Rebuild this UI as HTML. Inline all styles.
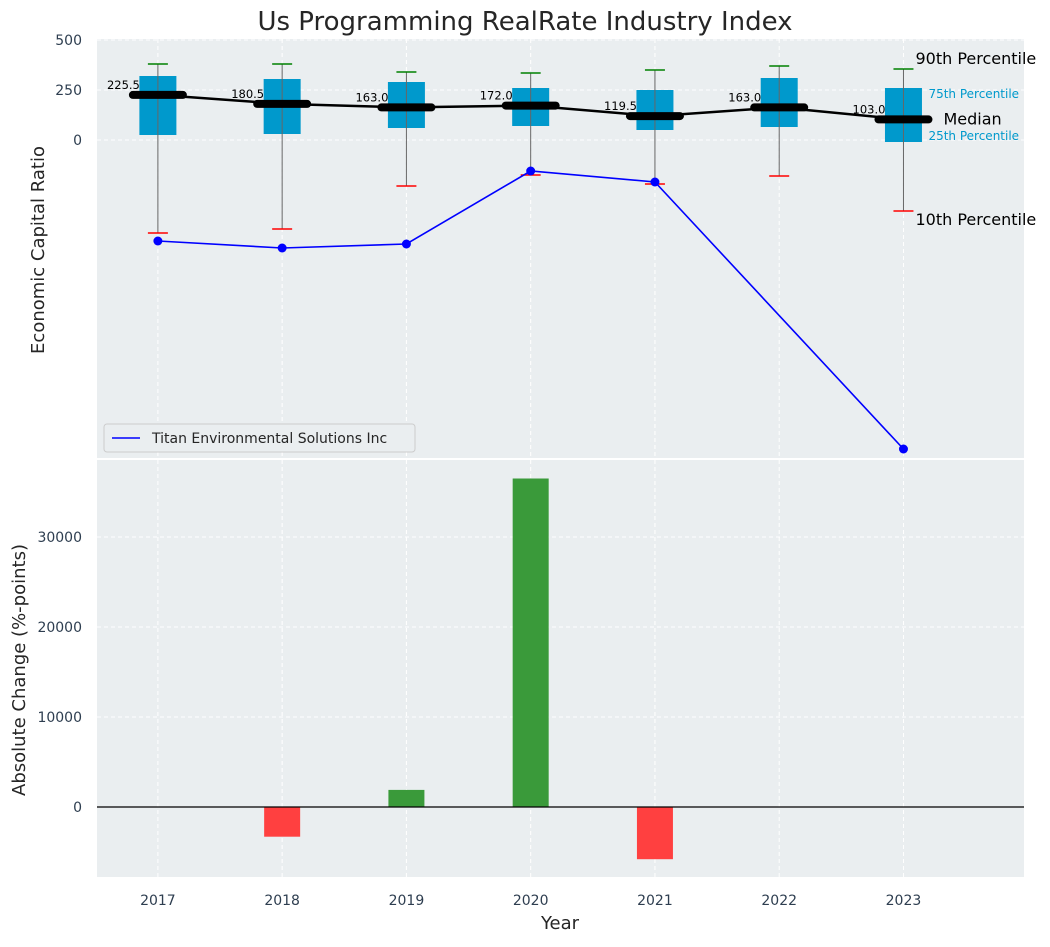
<!DOCTYPE html>
<html><head><meta charset="utf-8"><style>
body{margin:0;background:#fff;font-family:"Liberation Sans","DejaVu Sans",sans-serif}
svg text{font-family:"DejaVu Sans","Liberation Sans",sans-serif}
</style></head><body>
<svg id="c" width="1050" height="942" xmlns="http://www.w3.org/2000/svg"></svg>
<script>
const years=[2017,2018,2019,2020,2021,2022,2023];
const p90=[380,380,340,335,350,370,355];
const p75=[320,305,290,260,250,310,260];
const medians=[225.5,180.5,163.0,172.0,119.5,163.0,103.0];
const p25=[25,30,60,70,50,65,-10];
const p10=[-465,-445,-230,-175,-220,-180,-355];
const companyYears=[2017,2018,2019,2020,2021,2023];
const companyVals=[-505,-540,-520,-155,-210,-1545];
const changeVals=[0,-3300,1900,36500,-5800,0,0];
const topTicks=[500,250,0];
const botTicks=[0,10000,20000,30000];

const NS="http://www.w3.org/2000/svg";
const svg=document.getElementById('c');
function el(t,a,p){const e=document.createElementNS(NS,t);for(const k in a)e.setAttribute(k,a[k]);(p||svg).appendChild(e);return e;}
const X0=97,X1=1024;
const x=v=>X0+(v-2016.51)/(2023.97-2016.51)*(X1-X0);
const T0=39,T1=458,B0=460,B1=877;
const yT=v=>140-v*0.2;
const yB=v=>807-v*0.009;

let t=el('text',{x:525,y:30,'font-size':26,'text-anchor':'middle',fill:'#262626'});t.textContent='Us Programming RealRate Industry Index';



// panels
let pt=el('rect',{x:X0,y:T0,width:X1-X0,height:T1-T0,fill:'#eaeef0'});


let pb=el('rect',{x:X0,y:B0,width:X1-X0,height:B1-B0,fill:'#eaeef0'});



// grids
years.forEach(yr=>{
  el('line',{x1:x(yr),x2:x(yr),y1:T0,y2:T1,stroke:'#fff','stroke-dasharray':'4,3','stroke-width':1});
  el('line',{x1:x(yr),x2:x(yr),y1:B0,y2:B1,stroke:'#fff','stroke-dasharray':'4,3','stroke-width':1});
  let l=el('text',{x:x(yr),y:905,'font-size':14,'text-anchor':'middle',fill:'#2e3e50'});l.textContent=yr;
  
  
});
topTicks.forEach(v=>{
  el('line',{x1:X0,x2:X1,y1:yT(v),y2:yT(v),stroke:'#fff','stroke-dasharray':'4,3'});
  let l=el('text',{x:82,y:yT(v)+5,'font-size':14,'text-anchor':'end',fill:'#2e3e50'});l.textContent=v;
  
  
});
botTicks.forEach(v=>{
  el('line',{x1:X0,x2:X1,y1:yB(v),y2:yB(v),stroke:'#fff','stroke-dasharray':'4,3'});
  let l=el('text',{x:82,y:yB(v)+5,'font-size':14,'text-anchor':'end',fill:'#2e3e50'});l.textContent=v;
  
  
});

// boxes
years.forEach((yr,i)=>{
  const cx=x(yr),w=37;
  let b=el('rect',{x:cx-w/2,y:yT(p75[i]),width:w,height:yT(p25[i])-yT(p75[i]),fill:'#0099cc'});
  
  
  el('line',{x1:cx,x2:cx,y1:yT(p90[i]),y2:yT(p10[i]),stroke:'#666','stroke-width':1});
  el('line',{x1:cx-10,x2:cx+10,y1:yT(p90[i]),y2:yT(p90[i]),stroke:'green','stroke-width':1.6});
  el('line',{x1:cx-10,x2:cx+10,y1:yT(p10[i]),y2:yT(p10[i]),stroke:'red','stroke-width':1.6});
});
// median line
let mp=el('polyline',{points:years.map((yr,i)=>x(yr)+','+yT(medians[i])).join(' '),fill:'none',stroke:'#000','stroke-width':2.5});


years.forEach((yr,i)=>{
  let m=el('line',{x1:x(yr)-25,x2:x(yr)+25,y1:yT(medians[i]),y2:yT(medians[i]),stroke:'#000','stroke-width':8,'stroke-linecap':'round'});
  
  
  let l=el('text',{x:x(yr)-18,y:yT(medians[i])-6,'font-size':11.5,'text-anchor':'end',fill:'#000'});l.textContent=medians[i].toFixed(1);
  
  
});
// company line
let cl=el('polyline',{points:companyYears.map((yr,i)=>x(yr)+','+yT(companyVals[i])).join(' '),fill:'none',stroke:'#0000ff','stroke-width':1.6});


companyYears.forEach((yr,i)=>{
  let d=el('circle',{cx:x(yr),cy:yT(companyVals[i]),r:4.5,fill:'#0000ff'});
  
  
});
// annotations
const lx=x(2023);
[['90th Percentile',lx+12,yT(p90[6])-5,16,'#000'],['75th Percentile',lx+25,yT(p75[6])+10,12,'#0099cc'],['Median',lx+40,yT(medians[6])+5,16,'#000'],['25th Percentile',lx+25,yT(p25[6])-2,12,'#0099cc'],['10th Percentile',lx+12,yT(p10[6])+14,16,'#000']].forEach(a=>{
  let l=el('text',{x:a[1],y:a[2],'font-size':a[3],fill:a[4]});l.textContent=a[0];
  
  
});
// legend
let lg=el('g',{});


el('rect',{x:104,y:424,width:311,height:28,rx:3,fill:'#eaeef0',stroke:'#ccc'},lg);
el('line',{x1:112,x2:140,y1:438,y2:438,stroke:'#0000ff','stroke-width':1.6},lg);
let lt=el('text',{x:152,y:443,'font-size':14,fill:'#262626'},lg);lt.textContent='Titan Environmental Solutions Inc';

// bars
years.forEach((yr,i)=>{
  const v=changeVals[i];if(v===0)return;
  let r=el('rect',{x:x(yr)-18,y:Math.min(yB(0),yB(v)),width:36,height:Math.abs(yB(v)-yB(0)),fill:v>0?'#3a9a3a':'#ff4040'});
  
  
});
el('line',{x1:X0,x2:X1,y1:yB(0),y2:yB(0),stroke:'#000','stroke-width':1.2});

// axis titles
let a1=el('text',{x:0,y:0,'font-size':18,'text-anchor':'middle',fill:'#262626',transform:'translate(44,250) rotate(-90)'});a1.textContent='Economic Capital Ratio';


let a2=el('text',{x:0,y:0,'font-size':18,'text-anchor':'middle',fill:'#262626',transform:'translate(25,670) rotate(-90)'});a2.textContent='Absolute Change (%-points)';


let a3=el('text',{x:560,y:929,'font-size':18,'text-anchor':'middle',fill:'#262626'});a3.textContent='Year';


</script>
</body></html>
